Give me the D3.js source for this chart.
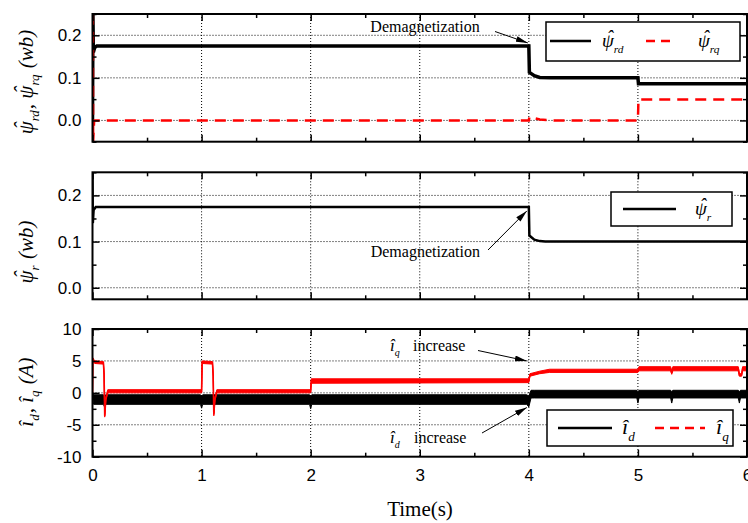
<!DOCTYPE html>
<html>
<head>
<meta charset="utf-8">
<script src="https://cdn.jsdelivr.net/npm/d3@7"></script>
<style>
	body { margin: 0; background: #fff; }
	text { fill: #000; }
</style>
</head>
<body>
<svg id="chart" width="748" height="523"></svg>
<script>
// ---- data ----
var timeTicks = [0, 1, 2, 3, 4, 5, 6];
var timeMinor = [0.5, 1.5, 2.5, 3.5, 4.5, 5.5];
var psiTicks = [0.0, 0.1, 0.2];
var psiMinorTop = [-0.05, 0.05, 0.15, 0.25];
var psiMinorMid = [0.05, 0.15, 0.25];
var currentTicks = [-10, -5, 0, 5, 10];
var currentMinor = [-7.5, -2.5, 2.5, 7.5];

// top panel: rotor flux d / q
var psiRdTime = [0, 0.004, 0.008, 0.02, 0.04, 4.0, 4.005, 4.05, 4.1, 4.2, 5.0, 5.005, 6.0];
var psiRd     = [0, 0.25, 0.16, 0.171, 0.175, 0.175, 0.113, 0.105, 0.101, 0.1, 0.1, 0.086, 0.086];
var psiRqTime = [0, 0.003, 0.006, 0.015, 4.0, 4.005, 4.1, 4.2, 5.0, 5.005, 6.0];
var psiRq     = [0.25, 0.25, -0.05, 0.0, 0.0, 0.008, 0.002, 0.0, 0.0, 0.049, 0.049];

// middle panel: rotor flux magnitude
var psiRTime = [0, 0.003, 0.01, 0.03, 4.0, 4.005, 4.05, 4.1, 4.15, 6.0];
var psiR     = [0.25, 0.14, 0.168, 0.175, 0.175, 0.113, 0.104, 0.101, 0.1, 0.1];

// bottom panel: currents (noise band, lower / upper edge)
var iqTime = [0, 0.003, 0.02, 0.1, 0.106, 0.112, 0.122, 0.14, 1.0, 1.005, 1.1, 1.106, 1.112, 1.122, 1.14, 2.0, 2.005, 4.0, 4.01, 4.1, 4.19, 5.0, 5.01, 5.3, 5.31, 5.32, 5.92, 5.93, 5.95, 5.96, 6.0];
var iqLow  = [0.0, 5.0, 4.6, 4.5, 2.8, -3.8, -1.2, 0.0, 0.0, 4.6, 4.5, 2.6, -3.6, -1.2, 0.0, 0.0, 1.5, 1.6, 2.6, 3.0, 3.2, 3.2, 3.45, 3.45, 2.9, 3.45, 3.45, 2.6, 2.6, 3.45, 3.45];
var iqHigh = [0.0, 5.5, 5.0, 4.9, 3.2, -3.4, -0.8, 0.5, 0.5, 5.0, 4.9, 3.0, -3.2, -0.8, 0.5, 0.5, 2.2, 2.2, 3.0, 3.4, 3.7, 3.7, 4.1, 4.1, 3.3, 4.1, 4.1, 3.0, 3.0, 4.1, 4.1];

var idTime = [0, 0.01, 0.1, 0.11, 0.12, 0.99, 1.0, 1.01, 1.99, 2.0, 2.01, 3.98, 4.0, 4.02, 4.05, 4.99, 5.0, 5.01, 5.3, 5.31, 5.32, 5.92, 5.93, 5.94, 6.0];
var idLow  = [-0.3, -1.8, -1.8, -2.2, -1.8, -1.8, -2.4, -1.8, -1.8, -2.5, -1.8, -1.8, -2.2, -0.8, -0.8, -0.8, -1.6, -0.8, -0.8, -1.6, -0.8, -0.8, -1.6, -0.8, -0.8];
var idHigh = [0.0, -0.3, -0.3, -0.5, -0.3, -0.3, -0.5, -0.3, -0.3, -0.5, -0.3, -0.3, -0.5, 0.4, 0.4, 0.4, 0.2, 0.4, 0.4, 0.2, 0.4, 0.4, 0.2, 0.4, 0.4];

// ---- drawing ----
var svg = d3.select('#chart');
var serif = '"Liberation Serif", "Times New Roman", serif';
var sans = '"Liberation Sans", Arial, sans-serif';
var red = '#ff0000';

var x = d3.scaleLinear().domain([0, 6]).range([92.5, 747]);

var panels = [
	{ top: 14, bottom: 141.7, domain: [-0.05, 0.25], major: psiTicks, minor: psiMinorTop, fmt: d3.format('.1f') },
	{ top: 172.3, bottom: 299.3, domain: [-0.025, 0.25], major: psiTicks, minor: psiMinorMid, fmt: d3.format('.1f') },
	{ top: 329, bottom: 456.7, domain: [-10, 10], major: currentTicks, minor: currentMinor, fmt: function(d) { return String(d); } }
];

panels.forEach(function(p, i) {
	p.y = d3.scaleLinear().domain(p.domain).range([p.bottom, p.top]);
	var g = svg.append('g').attr('class', 'panel' + i);
	p.g = g;

	// dotted grid
	g.append('g').selectAll('line')
		.data(timeTicks.filter(function(t) { return t > 0 && t < 6; }))
		.enter().append('line')
			.attr('x1', function(d) { return x(d); }).attr('x2', function(d) { return x(d); })
			.attr('y1', p.top).attr('y2', p.bottom)
			.attr('stroke', '#000').attr('stroke-width', 1).attr('stroke-dasharray', '1,2');
	g.append('g').selectAll('line')
		.data(p.major.filter(function(v) { return v > p.domain[0] && v < p.domain[1]; }))
		.enter().append('line')
			.attr('x1', x.range()[0]).attr('x2', x.range()[1])
			.attr('y1', function(d) { return p.y(d); }).attr('y2', function(d) { return p.y(d); })
			.attr('stroke', '#000').attr('stroke-width', 1).attr('stroke-dasharray', '1,2');

	svg.append('clipPath').attr('id', 'clip' + i)
		.append('rect')
		.attr('x', x.range()[0]).attr('y', p.top)
		.attr('width', x.range()[1] - x.range()[0]).attr('height', p.bottom - p.top);
	p.plot = g.append('g').attr('clip-path', 'url(#clip' + i + ')');
});

function lineOf(y) {
	return d3.line().x(function(d) { return x(d[0]); }).y(function(d) { return y(d[1]); });
}
function areaOf(y) {
	return d3.area().x(function(d) { return x(d[0]); })
		.y0(function(d) { return y(d[1]); }).y1(function(d) { return y(d[2]); });
}

// top panel
var p0 = panels[0];
p0.plot.append('path').datum(d3.zip(psiRdTime, psiRd))
	.attr('d', lineOf(p0.y)).attr('fill', 'none').attr('stroke', '#000').attr('stroke-width', 3.5);
p0.plot.append('path').datum(d3.zip(psiRqTime, psiRq))
	.attr('d', lineOf(p0.y)).attr('fill', 'none').attr('stroke', red).attr('stroke-width', 2.5)
	.attr('stroke-dasharray', '11,7');

// middle panel
var p1 = panels[1];
p1.plot.append('path').datum(d3.zip(psiRTime, psiR))
	.attr('d', lineOf(p1.y)).attr('fill', 'none').attr('stroke', '#000').attr('stroke-width', 2.5);

// bottom panel
var p2 = panels[2];
[[idTime, idLow, idHigh, '#000'], [iqTime, iqLow, iqHigh, red]].forEach(function(s) {
	var rows = d3.zip(s[0], s[1], s[2]);
	p2.plot.append('path').datum(rows)
		.attr('d', areaOf(p2.y)).attr('fill', s[3]).attr('stroke', s[3]).attr('stroke-width', 1);
	p2.plot.append('path').datum(rows.map(function(r) { return [r[0], (r[1] + r[2]) / 2]; }))
		.attr('d', lineOf(p2.y)).attr('fill', 'none').attr('stroke', s[3]).attr('stroke-width', 1.6);
});

// axes, ticks, frames
panels.forEach(function(p, i) {
	var g = p.g;
	function tickAxis(axis, pos, values, size) {
		var a = g.append('g').attr('transform', pos)
			.call(axis.tickValues(values).tickSize(size).tickFormat('').tickSizeOuter(0));
		a.select('.domain').remove();
		a.selectAll('line').attr('stroke', '#000').attr('stroke-width', 1.5);
		return a;
	}
	tickAxis(d3.axisLeft(p.y), 'translate(' + x.range()[0] + ',0)', p.minor, -4);
	tickAxis(d3.axisRight(p.y), 'translate(' + x.range()[1] + ',0)', p.minor, -4);
	tickAxis(d3.axisRight(p.y), 'translate(' + x.range()[1] + ',0)', p.major, -7);
	tickAxis(d3.axisTop(x), 'translate(0,' + p.top + ')', timeTicks, -7);
	tickAxis(d3.axisTop(x), 'translate(0,' + p.top + ')', timeMinor, -4);
	tickAxis(d3.axisBottom(x), 'translate(0,' + p.bottom + ')', timeMinor, -4);
	tickAxis(d3.axisBottom(x), 'translate(0,' + p.bottom + ')', timeTicks, -7);

	var left = g.append('g').attr('transform', 'translate(' + x.range()[0] + ',0)')
		.call(d3.axisLeft(p.y).tickValues(p.major).tickSize(-7).tickPadding(11).tickFormat(p.fmt).tickSizeOuter(0));
	left.select('.domain').remove();
	left.selectAll('line').attr('stroke', '#000').attr('stroke-width', 1.5);
	left.selectAll('text').attr('font-family', sans).attr('font-size', 17).attr('fill', '#000');

	g.append('rect')
		.attr('x', x.range()[0]).attr('y', p.top)
		.attr('width', x.range()[1] - x.range()[0]).attr('height', p.bottom - p.top)
		.attr('fill', 'none').attr('stroke', '#000').attr('stroke-width', 2);
});

// time axis labels
var bottomAxis = p2.g.append('g').attr('transform', 'translate(0,' + p2.bottom + ')')
	.call(d3.axisBottom(x).tickValues(timeTicks).tickSize(0).tickPadding(12).tickFormat(d3.format('d')));
bottomAxis.select('.domain').remove();
bottomAxis.selectAll('text').attr('font-family', sans).attr('font-size', 17).attr('fill', '#000');

svg.append('text').attr('x', 420).attr('y', 516).attr('text-anchor', 'middle')
	.attr('font-family', serif).attr('font-size', 21).text('Time(s)');

// rich text helper: parts = [[text, subscript, hat over text], ...]
function richText(sel, parts, size, subSize) {
	var dx = 0, dy = 0;
	function add(str, fs) {
		var t = sel.append('tspan').attr('font-size', fs).text(str);
		if (dx) t.attr('dx', dx);
		if (dy) t.attr('dy', dy);
		dx = 0; dy = 0;
		return t;
	}
	parts.forEach(function(part) {
		var base = add(part[0], size);
		if (part[2]) {
			var w = base.node().getComputedTextLength();
			dy = -size * 0.2;
			var hat = add('\u02C6', size);
			var hw = hat.node().getComputedTextLength();
			hat.attr('dx', -(w + hw) / 2 + size * 0.1);
			dx = (w - hw) / 2 - size * 0.1;
			dy = size * 0.2;
		}
		if (part[1]) {
			dy += size * 0.3;
			add(part[1], subSize);
			dy = -size * 0.3;
			dx += 1;
		}
	});
	if (dy) add('\u200A', size);
	return sel;
}

function yLabel(cx, cy, parts) {
	var t = svg.append('text')
		.attr('transform', 'translate(' + cx + ',' + cy + ') rotate(-90)')
		.attr('text-anchor', 'middle')
		.attr('font-family', serif).attr('font-style', 'italic');
	richText(t, parts, 21, 13);
}
yLabel(33, 82, [['\u03C8', 'rd', true], [', '], ['\u03C8', 'rq', true], [' (wb)']]);
yLabel(33, 252, [['\u03C8', 'r', true], [' (wb)']]);
yLabel(33, 392, [['\u00EE', 'd'], [', '], ['\u00EE', 'q'], [' (A)']]);

// legends
function legendBox(x0, y0, w, h) {
	svg.append('rect').attr('x', x0).attr('y', y0).attr('width', w).attr('height', h)
		.attr('fill', '#fff').attr('stroke', '#000').attr('stroke-width', 1.5);
}
function legendItem(x1, x2, ly, color, dashed, tx, parts, size) {
	svg.append('line').attr('x1', x1).attr('x2', x2).attr('y1', ly).attr('y2', ly)
		.attr('stroke', color).attr('stroke-width', 2.5)
		.attr('stroke-dasharray', dashed ? '9,6' : null);
	var t = svg.append('text').attr('x', tx).attr('y', ly + 6)
		.attr('font-family', serif).attr('font-style', 'italic');
	richText(t, parts, size, size * 0.6);
}
legendBox(546, 22, 194, 39);
legendItem(550, 591, 41, '#000', false, 602, [['\u03C8', 'rd', true]], 19);
legendItem(646, 676, 41, red, true, 698, [['\u03C8', 'rq', true]], 19);

legendBox(611, 192, 121, 34);
legendItem(623, 676, 209, '#000', false, 695, [['\u03C8', 'r', true]], 19);

legendBox(547, 410, 186, 36);
legendItem(558, 612, 428, '#000', false, 622, [['\u00EE', 'd']], 22);
legendItem(655, 705, 428, red, true, 716, [['\u00EE', 'q']], 22);

// annotations
svg.append('defs').append('marker')
	.attr('id', 'arrow').attr('viewBox', '0 0 12 6').attr('refX', 12).attr('refY', 3)
	.attr('markerWidth', 12).attr('markerHeight', 6).attr('markerUnits', 'userSpaceOnUse')
	.attr('orient', 'auto')
	.append('path').attr('d', 'M0,0 L12,3 L0,6 Z').attr('fill', '#000');

function arrow(x1, y1, x2, y2) {
	svg.append('line').attr('x1', x1).attr('y1', y1).attr('x2', x2).attr('y2', y2)
		.attr('stroke', '#000').attr('stroke-width', 1).attr('marker-end', 'url(#arrow)');
}

svg.append('text').attr('x', 425).attr('y', 32).attr('text-anchor', 'middle')
	.attr('font-family', serif).attr('font-size', 16).text('Demagnetization');
arrow(495, 31.5, x(4) - 1, p0.y(0.175) - 3);

svg.append('text').attr('x', 480).attr('y', 257).attr('text-anchor', 'end')
	.attr('font-family', serif).attr('font-size', 16).text('Demagnetization');
arrow(488, 250, x(4) - 2, p1.y(0.175) + 4);

var tq = svg.append('text').attr('x', 390).attr('y', 351).attr('font-family', serif);
tq.append('tspan').attr('font-style', 'italic').attr('font-size', 17).text('\u00EE');
tq.append('tspan').attr('font-style', 'italic').attr('font-size', 10).attr('dy', 5).text('q');
tq.append('tspan').attr('font-size', 16).attr('x', 413).attr('dy', -5).text('increase');
arrow(478, 350.5, x(4) - 2, p2.y(5));

var td = svg.append('text').attr('x', 390).attr('y', 443).attr('font-family', serif);
td.append('tspan').attr('font-style', 'italic').attr('font-size', 17).text('\u00EE');
td.append('tspan').attr('font-style', 'italic').attr('font-size', 10).attr('dy', 5).text('d');
td.append('tspan').attr('font-size', 16).attr('x', 414).attr('dy', -5).text('increase');
arrow(482, 433, x(4) - 2, p2.y(-2.3));
</script>
</body>
</html>
